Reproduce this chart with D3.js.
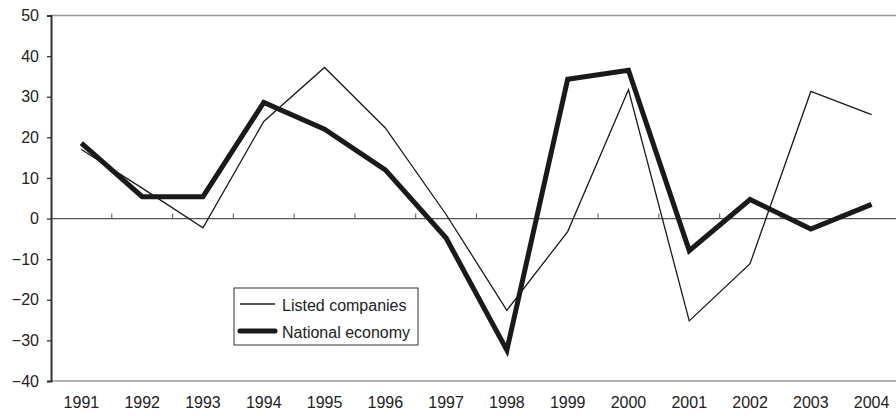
<!DOCTYPE html>
<html><head><meta charset="utf-8">
<script src="https://cdn.jsdelivr.net/npm/d3@7"></script>
<style>body{margin:0;background:#fff}svg{display:block}text{font-family:"Liberation Sans",Arial,sans-serif;fill:#222}</style>
</head><body><svg id="c" width="896" height="416"></svg>
<script>
const years = ["1991","1992","1993","1994","1995","1996","1997","1998","1999","2000","2001","2002","2003","2004"];
const listedCompanies = [17.0,7.5,-2.3,23.9,37.2,22.3,1.0,-22.6,-3.2,31.7,-25.2,-11.1,31.3,25.6];
const nationalEconomy = [18.6,5.4,5.4,28.6,22.0,12.0,-4.8,-32.4,34.3,36.5,-7.9,4.7,-2.6,3.5];
const yTicks = [50,40,30,20,10,0,-10,-20,-30,-40];

const svg = d3.select("#c");
const L = 51, R = 902, T = 15.5, B = 381;
const x = d3.scaleBand().domain(years).range([L, R]);
const y = d3.scaleLinear().domain([-40, 50]).range([B, T]);

// top and bottom frame lines
svg.append("line").attr("x1",L).attr("x2",896).attr("y1",y(50)).attr("y2",y(50)).attr("stroke","#999").attr("stroke-width",1.3);
svg.append("line").attr("x1",L).attr("x2",896).attr("y1",y(-40)).attr("y2",y(-40)).attr("stroke","#999").attr("stroke-width",1.3);

// zero axis with category boundary ticks
svg.append("line").attr("x1",L).attr("x2",896).attr("y1",y(0)).attr("y2",y(0)).attr("stroke","#555").attr("stroke-width",1.2);
svg.append("g").selectAll("line").data(years.slice(1)).join("line")
  .attr("x1",d=>x(d)).attr("x2",d=>x(d)).attr("y1",y(0)).attr("y2",y(0)-5)
  .attr("stroke","#555").attr("stroke-width",1);

// left y axis
const ya = svg.append("g").attr("transform",`translate(${L},0)`)
  .call(d3.axisLeft(y).tickValues(yTicks).tickSize(4).tickPadding(8)
    .tickFormat(d => d < 0 ? "\u2212" + Math.abs(d) : String(d)));
ya.select(".domain").attr("stroke","#333").attr("stroke-width",2);
ya.selectAll(".tick line").attr("stroke","#333").attr("stroke-width",1.3);
ya.selectAll("text").attr("font-size",16).style("fill","#222");

// x labels
const xa = svg.append("g").attr("transform",`translate(0,${B})`)
  .call(d3.axisBottom(x).tickSize(0).tickPadding(16));
xa.select(".domain").remove();
xa.selectAll("text").attr("font-size",16).style("fill","#222");

const line = d3.line().x((d,i)=>x(years[i])+x.bandwidth()/2).y(d=>y(d));
svg.append("path").datum(listedCompanies).attr("d",line).attr("fill","none").attr("stroke","#1a1a1a").attr("stroke-width",1.3);
svg.append("path").datum(nationalEconomy).attr("d",line).attr("fill","none").attr("stroke","#1a1a1a").attr("stroke-width",5).attr("stroke-linejoin","miter");

// legend
const lg = svg.append("g");
lg.append("rect").attr("x",234).attr("y",288).attr("width",184).attr("height",57).attr("fill","#fff").attr("stroke","#333").attr("stroke-width",1);
const items = [{name:"Listed companies", w:1.3},{name:"National economy", w:5}];
items.forEach((it,i)=>{
  const cy = 304 + i*27;
  lg.append("line").attr("x1",240).attr("x2",275).attr("y1",cy).attr("y2",cy).attr("stroke","#1a1a1a").attr("stroke-width",it.w).attr("stroke-linecap", i?"round":"butt");
  lg.append("text").attr("x",282).attr("y",cy+6.5).attr("font-size",16).text(it.name);
});
</script></body></html>
